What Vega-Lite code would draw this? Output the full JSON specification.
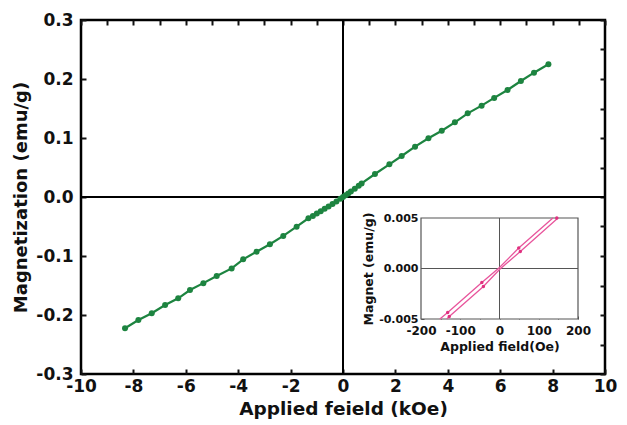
{
  "$schema": "https://vega.github.io/schema/vega-lite/v6.json",
  "width": 524,
  "height": 354,
  "autosize": {"type": "none"},
  "padding": {"left": 81, "top": 20, "right": 22, "bottom": 51},
  "background": "white",
  "config": {
    "view": {"stroke": "black", "strokeWidth": 2.5},
    "font": "DejaVu Sans",
    "locale": {"number": {"decimal": ".", "thousands": ",", "grouping": [3], "currency": ["$", ""], "minus": "-"}},
    "axis": {"grid": false, "labelFont": "DejaVu Sans", "titleFont": "DejaVu Sans", "labelFontWeight": "bold", "titleFontWeight": "bold", "labelColor": "#111", "titleColor": "#111", "tickColor": "#111"}
  },
  "datasets": {
    "main": [
      {"H": -8.32, "M": -0.2225}, {"H": -7.81, "M": -0.2085}, {"H": -7.3, "M": -0.197}, {"H": -6.79, "M": -0.183},
      {"H": -6.29, "M": -0.1717}, {"H": -5.84, "M": -0.1576}, {"H": -5.33, "M": -0.146}, {"H": -4.82, "M": -0.134},
      {"H": -4.25, "M": -0.121}, {"H": -3.81, "M": -0.1056}, {"H": -3.3, "M": -0.0927}, {"H": -2.79, "M": -0.08},
      {"H": -2.28, "M": -0.066}, {"H": -1.77, "M": -0.0503}, {"H": -1.32, "M": -0.036}, {"H": -1.15, "M": -0.032},
      {"H": -1.0, "M": -0.028}, {"H": -0.85, "M": -0.024}, {"H": -0.7, "M": -0.02}, {"H": -0.55, "M": -0.016},
      {"H": -0.4, "M": -0.012}, {"H": -0.25, "M": -0.0075}, {"H": -0.1, "M": -0.003}, {"H": 0.0, "M": 0.0},
      {"H": 0.1, "M": 0.003}, {"H": 0.2, "M": 0.006}, {"H": 0.3, "M": 0.0095}, {"H": 0.45, "M": 0.014},
      {"H": 0.6, "M": 0.019}, {"H": 0.71, "M": 0.023}, {"H": 1.22, "M": 0.039}, {"H": 1.77, "M": 0.0554},
      {"H": 2.24, "M": 0.0695}, {"H": 2.75, "M": 0.0853}, {"H": 3.26, "M": 0.0995}, {"H": 3.77, "M": 0.1124},
      {"H": 4.27, "M": 0.1266}, {"H": 4.76, "M": 0.1418}, {"H": 5.29, "M": 0.1548}, {"H": 5.77, "M": 0.168},
      {"H": 6.28, "M": 0.1814}, {"H": 6.79, "M": 0.1966}, {"H": 7.29, "M": 0.2107}, {"H": 7.84, "M": 0.225}
    ],
    "inset": [
      {"branch": "A", "H": -152, "M": -0.005}, {"branch": "A", "H": -132, "M": -0.00436}, {"branch": "A", "H": -45, "M": -0.00139},
      {"branch": "A", "H": 0, "M": 0.0001}, {"branch": "A", "H": 49, "M": 0.00202}, {"branch": "A", "H": 136, "M": 0.005},
      {"branch": "B", "H": -134, "M": -0.005}, {"branch": "B", "H": -128, "M": -0.00475}, {"branch": "B", "H": -41, "M": -0.00178},
      {"branch": "B", "H": 0, "M": -0.0001}, {"branch": "B", "H": 53, "M": 0.00168}, {"branch": "B", "H": 149, "M": 0.005}
    ],
    "insetPts": [
      {"H": -132, "M": -0.00436}, {"H": -128, "M": -0.00475}, {"H": -45, "M": -0.00139}, {"H": -41, "M": -0.00178},
      {"H": 49, "M": 0.00202}, {"H": 53, "M": 0.00168}, {"H": 146, "M": 0.005}
    ]
  },
  "resolve": {"scale": {"x": "independent", "y": "independent"}, "axis": {"x": "independent", "y": "independent"}},
  "layer": [
    {
      "layer": [
        {
          "data": {"values": [{"v": 0}]},
          "mark": {"type": "rule", "color": "black", "strokeWidth": 2},
          "encoding": {"x": {"field": "v", "type": "quantitative"}}
        },
        {
          "data": {"values": [{"v": 0}]},
          "mark": {"type": "rule", "color": "black", "strokeWidth": 2},
          "encoding": {"y": {"field": "v", "type": "quantitative"}}
        },
        {
          "data": {"name": "main"},
          "mark": {"type": "line", "color": "#1d8440", "strokeWidth": 2.2},
          "encoding": {
            "x": {"field": "H", "type": "quantitative", "scale": {"domain": [-10, 10], "nice": false, "zero": false},
              "axis": {"orient": "bottom", "values": [-10,-9,-8,-7,-6,-5,-4,-3,-2,-1,0,1,2,3,4,5,6,7,8,9,10],
                "labelExpr": "datum.value % 2 === 0 ? format(datum.value, 'd') : ''",
                "tickSize": -5, "tickWidth": 2, "domain": false, "labelFontSize": 17, "labelPadding": 9,
                "labelFlush": false, "labelOverlap": false,
                "title": "Applied feield (kOe)", "titleFontSize": 18.5, "titlePadding": 5}},
            "y": {"field": "M", "type": "quantitative", "scale": {"domain": [-0.3, 0.3], "nice": false, "zero": false},
              "axis": {"orient": "left", "values": [-0.3,-0.25,-0.2,-0.15,-0.1,-0.05,0,0.05,0.1,0.15,0.2,0.25,0.3],
                "labelExpr": "abs(round(datum.value * 20)) % 2 === 0 ? format(datum.value, '.1f') : ''",
                "tickSize": -5, "tickWidth": 2, "domain": false, "labelFontSize": 17, "labelPadding": 13,
                "labelFlush": false, "labelOverlap": false,
                "title": "Magnetization (emu/g)", "titleFontSize": 18, "titlePadding": 5}}
          }
        },
        {
          "data": {"name": "main"},
          "mark": {"type": "point", "filled": true, "color": "#1d8440", "size": 36, "opacity": 1},
          "encoding": {
            "x": {"field": "H", "type": "quantitative"},
            "y": {"field": "M", "type": "quantitative"}
          }
        }
      ]
    },
    {
      "data": {"values": [{"H": 0, "M": 0}]},
      "mark": {"type": "point", "opacity": 0},
      "encoding": {
        "x": {"field": "H", "type": "quantitative", "scale": {"domain": [-10, 10], "nice": false, "zero": false},
          "axis": {"orient": "top", "values": [-10,-9,-8,-7,-6,-5,-4,-3,-2,-1,0,1,2,3,4,5,6,7,8,9,10],
            "labels": false, "tickSize": -5, "tickWidth": 2, "domain": false, "title": null}},
        "y": {"field": "M", "type": "quantitative", "scale": {"domain": [-0.3, 0.3], "nice": false, "zero": false},
          "axis": {"orient": "right", "values": [-0.3,-0.25,-0.2,-0.15,-0.1,-0.05,0,0.05,0.1,0.15,0.2,0.25,0.3],
            "labels": false, "tickSize": -5, "tickWidth": 2, "domain": false, "title": null}}
      }
    },
    {
      "layer": [
        {
          "data": {"values": [{"x1": -200, "x2": 200, "y1": -0.005, "y2": 0.005}]},
          "mark": {"type": "rect", "fill": "white", "stroke": "#555", "strokeWidth": 1.2},
          "encoding": {
            "x": {"field": "x1", "type": "quantitative", "scale": {"domain": [-200, 200], "range": [340, 497], "nice": false, "zero": false},
              "axis": {"orient": "bottom", "offset": -55, "values": [-200,-150,-100,-50,0,50,100,150,200],
                "labelExpr": "datum.value % 100 === 0 ? format(datum.value, 'd') : ''",
                "tickSize": -3, "tickWidth": 1, "tickColor": "#555", "domain": false, "labelFontSize": 12, "labelPadding": 9,
                "labelFlush": false, "labelOverlap": false,
                "title": "Applied field(Oe)", "titleFontSize": 12.5, "titlePadding": 4}},
            "x2": {"field": "x2"},
            "y": {"field": "y1", "type": "quantitative", "scale": {"domain": [-0.005, 0.005], "range": [299, 198], "nice": false, "zero": false},
              "axis": {"orient": "left", "offset": -340, "values": [-0.005, -0.0025, 0, 0.0025, 0.005],
                "labelExpr": "abs(round(datum.value * 400)) % 2 === 0 ? format(datum.value, '.3f') : ''",
                "tickSize": -3, "tickWidth": 1, "tickColor": "#555", "domain": false, "labelFontSize": 11, "labelPadding": 6,
                "labelFlush": false, "labelOverlap": false,
                "title": "Magnet (emu/g)", "titleFontSize": 12.5, "titlePadding": 3}},
            "y2": {"field": "y2"}
          }
        },
        {
          "data": {"values": [{"x": 0, "y": -0.005, "y2": 0.005}]},
          "mark": {"type": "rule", "color": "#555", "strokeWidth": 1},
          "encoding": {
            "x": {"field": "x", "type": "quantitative"},
            "y": {"field": "y", "type": "quantitative"},
            "y2": {"field": "y2"}
          }
        },
        {
          "data": {"values": [{"x": -200, "x2": 200, "y": 0}]},
          "mark": {"type": "rule", "color": "#555", "strokeWidth": 1},
          "encoding": {
            "x": {"field": "x", "type": "quantitative"},
            "x2": {"field": "x2"},
            "y": {"field": "y", "type": "quantitative"}
          }
        },
        {
          "data": {"name": "inset"},
          "mark": {"type": "line", "color": "#e8559c", "strokeWidth": 1.3},
          "encoding": {
            "x": {"field": "H", "type": "quantitative"},
            "y": {"field": "M", "type": "quantitative"},
            "detail": {"field": "branch"}
          }
        },
        {
          "data": {"name": "insetPts"},
          "mark": {"type": "point", "filled": true, "color": "#e0307f", "size": 12, "opacity": 1},
          "encoding": {
            "x": {"field": "H", "type": "quantitative"},
            "y": {"field": "M", "type": "quantitative"}
          }
        }
      ]
    }
  ]
}
